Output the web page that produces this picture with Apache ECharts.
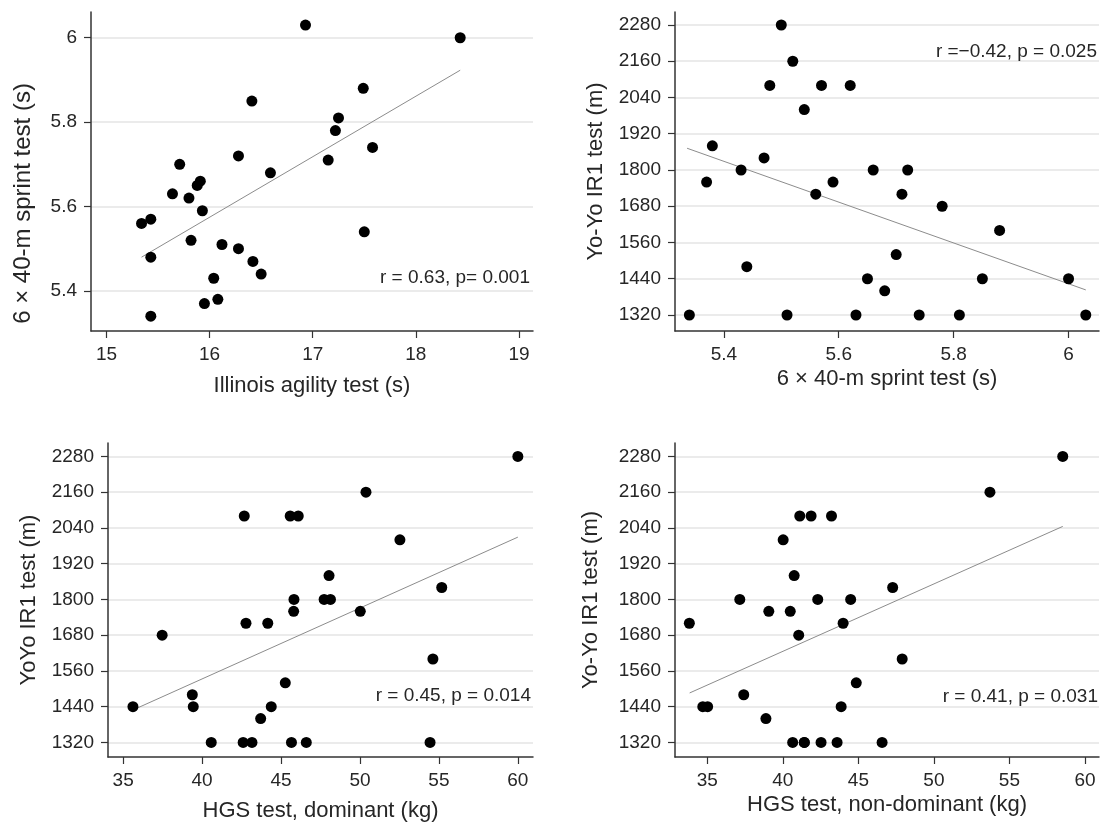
<!DOCTYPE html>
<html><head><meta charset="utf-8">
<script src="https://cdn.jsdelivr.net/npm/echarts@6/dist/echarts.min.js"></script>
<style>html,body{margin:0;padding:0;background:#fff}#c{width:1103px;height:825px}</style>
</head><body><div id="c"></div>
<script>
// ---- Panel 1: Illinois agility vs 6x40-m sprint
const agility = [16.93, 18.43, 17.49, 16.41, 17.25, 17.22, 17.58, 16.28, 17.15, 15.71, 16.59, 15.91, 15.88, 15.64, 15.80, 15.93, 15.34, 15.43, 17.50, 15.82, 16.12, 16.28, 15.43, 16.42, 16.50, 16.04, 16.08, 15.95, 15.43];
const sprintA = [6.03, 6.00, 5.88, 5.85, 5.81, 5.78, 5.74, 5.72, 5.71, 5.70, 5.68, 5.66, 5.65, 5.63, 5.62, 5.59, 5.56, 5.57, 5.54, 5.52, 5.51, 5.50, 5.48, 5.47, 5.44, 5.43, 5.38, 5.37, 5.34];
const fit1X = [15.34, 18.43];
const fit1Y = [5.480, 5.923];
// ---- Panel 2: sprint vs Yo-Yo IR1
const sprintB = [5.34, 5.50, 5.52, 5.48, 5.57, 5.62, 5.54, 5.38, 5.47, 5.43, 5.37, 5.56, 5.59, 5.66, 5.72, 5.71, 5.78, 5.88, 5.44, 5.70, 5.65, 5.68, 5.85, 6.00, 5.51, 5.63, 5.74, 5.81, 6.03];
const yoyoB = [1320, 2280, 2160, 2080, 2080, 2080, 2000, 1880, 1840, 1800, 1760, 1720, 1760, 1800, 1800, 1720, 1680, 1600, 1480, 1520, 1440, 1400, 1440, 1440, 1320, 1320, 1320, 1320, 1320];
const fit2X = [5.336, 6.03];
const fit2Y = [1872, 1403];
// ---- Panel 3: HGS dominant vs YoYo IR1
const hgsDom = [60.0, 50.38, 42.67, 45.58, 46.09, 52.53, 48.04, 55.18, 45.82, 47.73, 48.13, 45.80, 50.02, 42.78, 44.16, 37.47, 54.62, 45.27, 39.38, 39.44, 35.62, 44.38, 43.71, 40.58, 42.60, 43.16, 45.66, 46.60, 54.44];
const yoyoC = [2280, 2160, 2080, 2080, 2080, 2000, 1880, 1840, 1800, 1800, 1800, 1760, 1760, 1720, 1720, 1680, 1600, 1520, 1480, 1440, 1440, 1440, 1400, 1320, 1320, 1320, 1320, 1320, 1320];
const fit3X = [35.67, 60.0];
const fit3Y = [1430, 2009];
// ---- Panel 4: HGS non-dominant vs Yo-Yo IR1
const hgsNon = [58.53, 53.71, 41.12, 41.87, 43.22, 40.02, 40.75, 47.27, 37.15, 42.31, 44.49, 39.07, 40.49, 33.81, 43.99, 41.05, 47.90, 44.86, 37.41, 34.70, 35.02, 43.86, 38.88, 40.65, 41.42, 41.42, 42.53, 43.59, 46.57];
const yoyoD = [2280, 2160, 2080, 2080, 2080, 2000, 1880, 1840, 1800, 1800, 1800, 1760, 1760, 1720, 1720, 1680, 1600, 1520, 1480, 1440, 1440, 1440, 1400, 1320, 1320, 1320, 1320, 1320, 1320];
const fit4X = [33.83, 58.53];
const fit4Y = [1486, 2045];
// ---- Tick values
const agilityTicks = [15, 16, 17, 18, 19];
const sprintTicks = [5.4, 5.6, 5.8, 6];
const yoyoTicks = [1320, 1440, 1560, 1680, 1800, 1920, 2040, 2160, 2280];
const hgsTicks = [35, 40, 45, 50, 55, 60];
// ---- Texts
const notes = ['r = 0.63, p= 0.001', 'r =\u22120.42, p = 0.025', 'r = 0.45, p = 0.014', 'r = 0.41, p = 0.031'];

const FONT = '"Liberation Sans", Arial, sans-serif';
const TXT = '#262626';
const AX = '#333333';

function pairs(xs, ys) { return xs.map((x, i) => [x, ys[i]]); }
function plain(v) { return String(v); }

function mkX(gi, min, max, ticks, name, gap) {
  return {
    type: 'value', gridIndex: gi, min: min, max: max,
    name: name, nameLocation: 'middle', nameGap: gap,
    nameTextStyle: { fontFamily: FONT, fontSize: 22, color: TXT },
    axisLine: { show: true, onZero: false, lineStyle: { color: AX, width: 1.5 } },
    axisTick: { show: true, length: 7, inside: false, customValues: ticks, lineStyle: { color: AX, width: 1.2 } },
    axisLabel: { customValues: ticks, formatter: plain, margin: 14, fontFamily: FONT, fontSize: 19, color: TXT },
    splitLine: { show: false }
  };
}
function mkY(gi, min, max, ticks, name, gap, fs, pad) {
  return {
    type: 'value', gridIndex: gi, min: min, max: max,
    name: name, nameLocation: 'middle', nameGap: gap,
    nameTextStyle: { fontFamily: FONT, fontSize: fs, color: TXT, padding: pad },
    axisLine: { show: true, onZero: false, lineStyle: { color: AX, width: 1.5 } },
    axisTick: { show: true, length: 7, inside: false, customValues: ticks, lineStyle: { color: AX, width: 1.2 } },
    axisLabel: { customValues: ticks, formatter: plain, margin: 14, fontFamily: FONT, fontSize: 19, color: TXT },
    splitLine: { show: true, lineStyle: { color: '#e4e4e4', width: 1.5 } }
  };
}
function scat(gi, xs, ys) {
  return { type: 'scatter', xAxisIndex: gi, yAxisIndex: gi, data: pairs(xs, ys), symbol: 'circle', symbolSize: 11,
    itemStyle: { color: '#000', opacity: 1 }, z: 3, silent: true };
}
function fit(gi, xs, ys) {
  return { type: 'line', xAxisIndex: gi, yAxisIndex: gi, data: pairs(xs, ys), showSymbol: false, symbol: 'none',
    lineStyle: { color: '#8c8c8c', width: 1 }, z: 2, silent: true };
}
function note(x, y, t) {
  return { type: 'text', x: x, y: y, z: 10,
    style: { text: t, align: 'right', verticalAlign: 'middle', fontFamily: 'Liberation Sans', fontSize: 19, fill: TXT } };
}

const chart = echarts.init(document.getElementById('c'), null, { renderer: 'canvas' });
chart.setOption({
  animation: false,
  backgroundColor: '#fff',
  grid: [
    { left: 91, top: 12, width: 442, height: 319 },
    { left: 675, top: 12, width: 424, height: 319 },
    { left: 108, top: 443, width: 425, height: 314 },
    { left: 675, top: 443, width: 424, height: 314 }
  ],
  xAxis: [
    mkX(0, 14.85, 19.136, agilityTicks, 'Illinois agility test (s)', 44),
    mkX(1, 5.315, 6.053, sprintTicks, '6 \u00d7 40-m sprint test (s)', 37),
    mkX(2, 34.04, 60.96, hgsTicks, 'HGS test, dominant (kg)', 43),
    mkX(3, 32.86, 60.93, hgsTicks, 'HGS test, non-dominant (kg)', 37)
  ],
  yAxis: [
    mkY(0, 5.305, 6.061, sprintTicks, '6 \u00d7 40-m sprint test (s)', 56, 24, [0, 64, 0, 0]),
    mkY(1, 1267, 2323, yoyoTicks, 'Yo-Yo IR1 test (m)', 68, 22, 0),
    mkY(2, 1271, 2325, yoyoTicks, 'YoYo IR1 test (m)', 68, 22, 0),
    mkY(3, 1271, 2325, yoyoTicks, 'Yo-Yo IR1 test (m)', 73, 22, 0)
  ],
  series: [
    fit(0, fit1X, fit1Y), scat(0, agility, sprintA),
    fit(1, fit2X, fit2Y), scat(1, sprintB, yoyoB),
    fit(2, fit3X, fit3Y), scat(2, hgsDom, yoyoC),
    fit(3, fit4X, fit4Y), scat(3, hgsNon, yoyoD)
  ],
  graphic: [
    note(530, 278, notes[0]),
    note(1097, 52, notes[1]),
    note(531, 696, notes[2]),
    note(1098, 697, notes[3])
  ]
});
</script>
</body></html>
